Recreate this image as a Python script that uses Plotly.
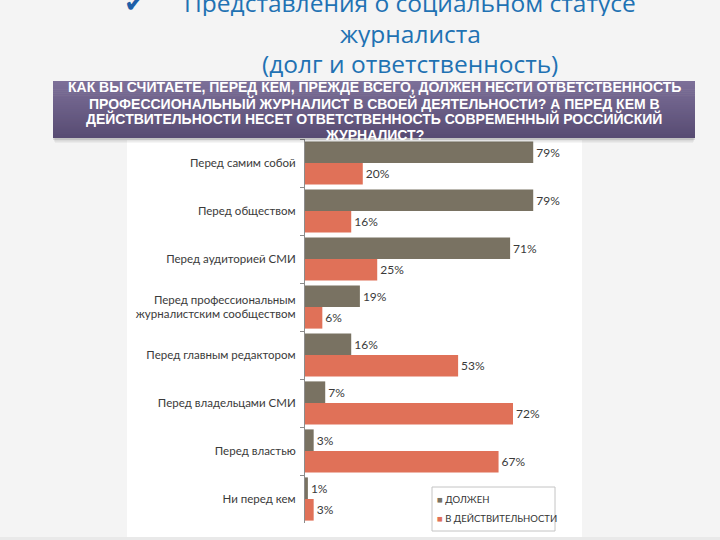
import plotly.graph_objects as go

categories = [
    "Перед самим собой",
    "Перед обществом",
    "Перед аудиторией СМИ",
    "Перед профессиональным<br>журналистским сообществом",
    "Перед главным редактором",
    "Перед владельцами СМИ",
    "Перед властью",
    "Ни перед кем",
]
should_values = [79, 79, 71, 19, 16, 7, 3, 1]
actual_values = [20, 16, 25, 6, 53, 72, 67, 3]
series_names = ["ДОЛЖЕН", "В ДЕЙСТВИТЕЛЬНОСТИ"]
title_lines = ["Представления о социальном статусе", "журналиста", "(долг и ответственность)"]
banner_lines = [
    "КАК ВЫ СЧИТАЕТЕ, ПЕРЕД КЕМ, ПРЕЖДЕ ВСЕГО, ДОЛЖЕН НЕСТИ ОТВЕТСТВЕННОСТЬ",
    "ПРОФЕССИОНАЛЬНЫЙ ЖУРНАЛИСТ В СВОЕЙ ДЕЯТЕЛЬНОСТИ? А ПЕРЕД КЕМ В",
    "ДЕЙСТВИТЕЛЬНОСТИ НЕСЕТ ОТВЕТСТВЕННОСТЬ СОВРЕМЕННЫЙ РОССИЙСКИЙ",
    "ЖУРНАЛИСТ?",
]

W, H = 720, 540
GRAY = "#797262"
ORANGE = "#e07158"
TXT = "#3a3a3a"


def px(x):
    return x / W


def py(y):
    return 1 - y / H


fig = go.Figure()
fig.add_trace(go.Bar(
    y=categories, x=should_values, name=series_names[0], orientation="h",
    marker=dict(color=GRAY, line=dict(width=0)),
    texttemplate="%{x}%", textposition="outside",
    textfont=dict(family="Lato", size=12, color=TXT), cliponaxis=False,
))
fig.add_trace(go.Bar(
    y=categories, x=actual_values, name=series_names[1], orientation="h",
    marker=dict(color=ORANGE, line=dict(width=0)),
    texttemplate="%{x}%", textposition="outside",
    textfont=dict(family="Lato", size=12, color=TXT), cliponaxis=False,
))

shapes = []
# white chart panel
shapes.append(dict(type="rect", xref="paper", yref="paper", x0=px(127), x1=px(582),
                   y0=py(537), y1=py(140), fillcolor="white", line=dict(width=0), layer="below"))
shapes.append(dict(type="rect", xref="paper", yref="paper", x0=0, x1=1,
                   y0=py(540), y1=py(537), fillcolor="#e9e9e9", line=dict(width=0), layer="below"))
# banner shadow
for i, a in enumerate([0.10, 0.07, 0.04]):
    shapes.append(dict(type="rect", xref="paper", yref="paper", x0=px(53 + i), x1=px(695 - i),
                       y0=py(140 + i * 1.5), y1=py(84), fillcolor=f"rgba(0,0,0,{a})",
                       line=dict(width=0), layer="above"))
# banner gradient
top = (124, 111, 152)
bot = (88, 76, 115)
n = 28
y_top, y_bot = 81, 138
for i in range(n):
    t = i / (n - 1)
    c = tuple(int(round(top[k] + (bot[k] - top[k]) * t)) for k in range(3))
    y0 = y_top + (y_bot - y_top) * i / n
    y1 = y_top + (y_bot - y_top) * (i + 1) / n + 0.6
    shapes.append(dict(type="rect", xref="paper", yref="paper", x0=px(53), x1=px(695),
                       y0=py(min(y1, y_bot)), y1=py(y0), fillcolor=f"rgb{c}",
                       line=dict(width=0), layer="above"))
# legend box
shapes.append(dict(type="rect", xref="paper", yref="paper", x0=px(432), x1=px(555),
                   y0=py(531), y1=py(487), fillcolor="white", line=dict(color="#c4c4c4", width=1),
                   layer="above"))

annotations = []
# title
annotations.append(dict(text="✔", x=px(135), y=py(3), xref="paper", yref="paper",
                        showarrow=False, font=dict(family="DejaVu Sans", size=26, color="#1d5fa8"),
                        xanchor="center", yanchor="middle"))
title_y = [3, 33, 64]
for line, ty in zip(title_lines, title_y):
    annotations.append(dict(text=line, x=px(410), y=py(ty), xref="paper", yref="paper",
                            showarrow=False, height=27, valign="middle",
                            font=dict(family="Open Sans", size=24.5, color="#1f72b3"),
                            xanchor="center", yanchor="middle"))
# banner text
for i, line in enumerate(banner_lines):
    annotations.append(dict(text=f"<b>{line}</b>", x=px(374), y=py(87 + 16 * i), xref="paper",
                            yref="paper", showarrow=False,
                            font=dict(family="Liberation Sans", size=14, color="white"),
                            xanchor="center", yanchor="middle"))
# legend entries
legend_colors = [GRAY, ORANGE]
for i, (name, col) in enumerate(zip(series_names, legend_colors)):
    annotations.append(dict(text=f"<span style='color:{col}'>■</span> {name}", x=px(435),
                            y=py(499 + 19 * i), xref="paper", yref="paper", showarrow=False,
                            font=dict(family="Lato", size=9.5, color="#333333"),
                            xanchor="left", yanchor="middle"))

fig.update_layout(
    width=W, height=H,
    margin=dict(l=0, r=0, t=0, b=0),
    paper_bgcolor="#f4f4f4",
    plot_bgcolor="rgba(0,0,0,0)",
    barmode="group", bargap=0.1, bargroupgap=0.0,
    showlegend=False,
    shapes=shapes,
    annotations=annotations,
    xaxis=dict(domain=[px(305), px(565)], range=[0, 90], visible=False, fixedrange=True),
    yaxis=dict(domain=[py(523), py(139)], autorange="reversed", type="category",
               showline=True, linecolor="#8c8c8c", linewidth=1,
               ticks="outside", tickson="boundaries", ticklen=4, tickcolor="#8c8c8c",
               tickfont=dict(family="Lato", size=11.5, color=TXT),
               ticklabelstandoff=6, showgrid=False, zeroline=False),
)

fig.write_html("out.html")
